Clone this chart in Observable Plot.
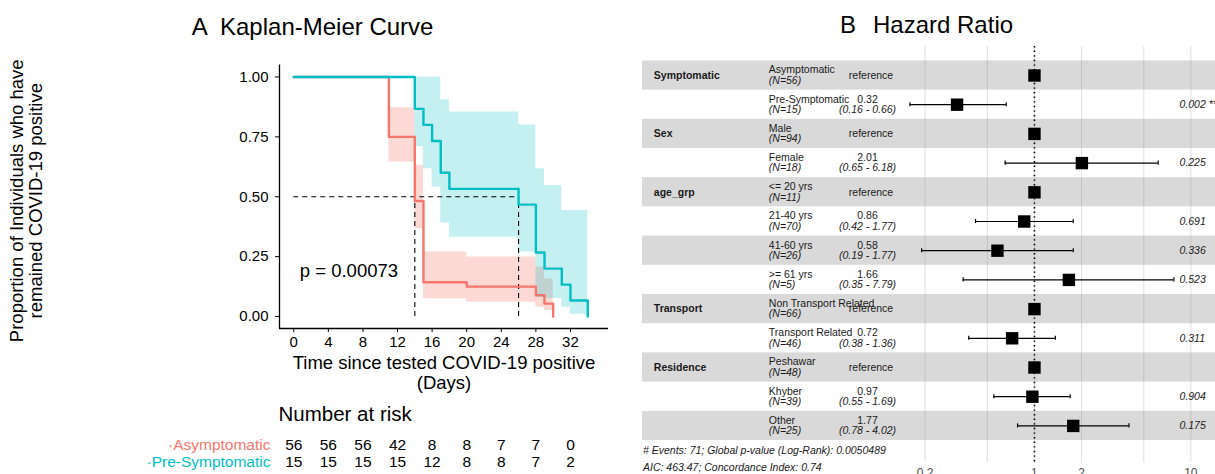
<!DOCTYPE html>
<html><head><meta charset="utf-8">
<script src="https://cdn.jsdelivr.net/npm/d3@7"></script>
<script src="https://cdn.jsdelivr.net/npm/@observablehq/plot@0.6"></script>
<style>
html,body{margin:0;padding:0;background:#fff;}
#root{position:relative;width:1215px;height:474px;overflow:hidden;background:#fff;font-family:"Liberation Sans",Arial,Helvetica,sans-serif;color:#000;}
.abs{position:absolute;line-height:1;white-space:pre;}
#root svg{position:absolute;top:0;}
</style></head><body><div id="root"></div>
<script>
const FONT = '"Liberation Sans", Arial, Helvetica, sans-serif';

// ---------- Panel A: Kaplan-Meier data ----------
const groups = ["Asymptomatic", "Pre-Symptomatic"];
const groupColors = ["#F8766D", "#00BFC4"];
const bandOpacity = [0.28, 0.23];
const asymTime  = [0, 11, 14, 15, 20, 28, 29, 30];
const asymSurv  = [1, 0.75, 0.482, 0.143, 0.125, 0.089, 0.054, 0];
const asymLower = [1, 0.645, 0.366, 0.074, 0.06, 0.039, 0.025, 0];
const asymUpper = [1, 0.872, 0.631, 0.269, 0.248, 0.206, 0.157, 0];
const preTime  = [0, 14, 15, 16, 17, 18, 26, 28, 29, 31, 32, 34];
const preSurv  = [1, 0.867, 0.8, 0.733, 0.6, 0.533, 0.467, 0.267, 0.2, 0.133, 0.067, 0];
const preLower = [1, 0.71, 0.617, 0.54, 0.39, 0.331, 0.269, 0.08, 0.075, 0.04, 0.01, 0];
const preUpper = [1, 1, 1, 1, 0.905, 0.854, 0.8, 0.617, 0.547, 0.443, 0.443, 0];
const medianTimes = [14, 26];
const medianSurv = 0.5;
const pValueLabel = "p = 0.00073";
const pValueAt = {t: 0.7, s: 0.19};
const xTicks = [0, 4, 8, 12, 16, 20, 24, 28, 32];
const yTicks = [0, 0.25, 0.5, 0.75, 1];
const xTitle = "Time since tested COVID-19 positive\n(Days)";
const yTitle = "Proportion of Individuals who have\nremained COVID-19 positive";

// Number at risk
const riskTimes = [0, 4, 8, 12, 16, 20, 24, 28, 32];
const riskAsym = [56, 56, 56, 42, 8, 8, 7, 7, 0];
const riskPre  = [15, 15, 15, 15, 12, 8, 8, 7, 2];

// ---------- Panel B: Hazard ratio data ----------
const fpVariable = ["Symptomatic", "", "Sex", "", "age_grp", "", "", "", "Transport", "", "Residence", "", ""];
const fpLevel = ["Asymptomatic", "Pre-Symptomatic", "Male", "Female", "<= 20 yrs", "21-40 yrs", "41-60 yrs", ">= 61 yrs", "Non Transport Related", "Transport Related", "Peshawar", "Khyber", "Other"];
const fpN = [56, 15, 94, 18, 11, 70, 26, 5, 66, 46, 48, 39, 25];
const fpHR   = [null, 0.32, null, 2.01, null, 0.86, 0.58, 1.66, null, 0.72, null, 0.97, 1.77];
const fpLow  = [null, 0.16, null, 0.65, null, 0.42, 0.19, 0.35, null, 0.38, null, 0.55, 0.78];
const fpHigh = [null, 0.66, null, 6.18, null, 1.77, 1.77, 7.79, null, 1.36, null, 1.69, 4.02];
const fpP = ["", "0.002 **", "", "0.225", "", "0.691", "0.336", "0.523", "", "0.311", "", "0.904", "0.175"];
const fpTicks = [0.2, 0.5, 1, 2, 5, 10];
const fpFooter = ["# Events: 71; Global p-value (Log-Rank): 0.0050489", "AIC: 463.47; Concordance Index: 0.74"];

// ---------- helpers ----------
const root = document.getElementById("root");
function addText(txt, left, baseline, size, extra = {}) {
  const d = document.createElement("div");
  d.className = "abs";
  d.textContent = txt;
  d.style.left = left + "px";
  d.style.top = (baseline - 0.8465 * size) + "px";
  d.style.fontSize = size + "px";
  Object.assign(d.style, extra);
  root.appendChild(d);
}
function place(svg, left) {
  svg.style.left = left + "px";
  root.appendChild(svg);
}

// ---------- KM plot ----------
const kmRows = [
  ...asymTime.map((t, i) => ({group: groups[0], t, s: asymSurv[i], lo: asymLower[i], hi: asymUpper[i]})),
  ...preTime.map((t, i) => ({group: groups[1], t, s: preSurv[i], lo: preLower[i], hi: preUpper[i]}))
];
const xDom = [-1.65, 36.4];
const yDom = [-0.05, 1.05];
const baseStyle = {fontFamily: FONT, fontSize: "15px", color: "#000", background: "transparent", overflow: "visible"};

const km = Plot.plot({
  width: 620, height: 400,
  marginLeft: 279, marginRight: 12, marginTop: 64.5, marginBottom: 72,
  x: {domain: xDom},
  y: {domain: yDom},
  color: {domain: groups, range: groupColors},
  style: baseStyle,
  marks: [
    ...groups.map((g, gi) => Plot.areaY(kmRows.filter(d => d.group === g), {x: "t", y1: "lo", y2: "hi", fill: groupColors[gi], fillOpacity: bandOpacity[gi], curve: "step-after"})),
    Plot.ruleY([medianSurv], {x1: 0, x2: d3.max(medianTimes), stroke: "#000", strokeWidth: 1.1, strokeDasharray: "5,4"}),
    Plot.ruleX(medianTimes, {y1: 0, y2: medianSurv, stroke: "#000", strokeWidth: 1.1, strokeDasharray: "5,4"}),
    Plot.line(kmRows, {x: "t", y: "s", z: "group", stroke: "group", strokeWidth: 2.4, curve: "step-after"}),
    Plot.text([pValueAt], {x: "t", y: "s", text: () => pValueLabel, textAnchor: "start", fontSize: 18.5}),
    Plot.ruleX([xDom[0]], {stroke: "#000", strokeWidth: 1.3}),
    Plot.ruleY([yDom[0]], {stroke: "#000", strokeWidth: 1.3}),
    Plot.axisX({ticks: xTicks, tickSize: 4, tickPadding: 4, label: null, fontSize: 15}),
    Plot.axisY({ticks: yTicks, tickFormat: d3.format(".2f"), tickSize: 4, tickPadding: 7, label: null, fontSize: 15}),
    Plot.text([xTitle], {text: d => d, frameAnchor: "bottom", dy: 26, lineAnchor: "top", textAnchor: "middle", fontSize: 18.5, lineHeight: 1.08}),
    Plot.text([yTitle], {text: d => d, frameAnchor: "left", dx: -253, dy: 4, rotate: -90, textAnchor: "middle", lineAnchor: "middle", fontSize: 18.5, lineHeight: 1.0})
  ]
});
place(km, 0);

// ---------- Risk table ----------
const riskRows = groups.flatMap((g, gi) => riskTimes.map((t, i) => ({group: g, t, n: (gi ? riskPre : riskAsym)[i]})));
const risk = Plot.plot({
  width: 620, height: 474,
  marginLeft: 279, marginRight: 12, marginTop: 445, marginBottom: 11.7,
  x: {domain: xDom, axis: null},
  y: {type: "point", domain: groups, padding: 0, axis: null},
  color: {domain: groups, range: groupColors},
  style: baseStyle,
  marks: [
    Plot.text(riskRows, {x: "t", y: "group", text: "n", fontSize: 15.5}),
    Plot.text(groups, {y: d => d, text: d => "\u00b7" + d, fill: d => d, frameAnchor: "left", dx: -9, textAnchor: "end", fontSize: 15.5})
  ]
});
place(risk, 0);

// ---------- Forest plot ----------
const fpRows = fpLevel.map((lvl, i) => ({
  i, variable: fpVariable[i], level: lvl, n: "(N=" + fpN[i] + ")",
  ref: fpHR[i] == null,
  hr: fpHR[i] == null ? 1 : fpHR[i],
  lo: fpLow[i], hi: fpHigh[i], p: fpP[i]
}));
const fpEst = fpRows.filter(d => !d.ref);
const fpRef = fpRows.filter(d => d.ref);
const fmt2 = d3.format(".2f");
const ink = "#1a1a1a";
const forest = Plot.plot({
  width: 575, height: 500,
  marginLeft: 2, marginRight: 0, marginTop: 46, marginBottom: 38,
  x: {type: "log", domain: [0.00312, 14.37]},
  y: {domain: [-0.993, 13.253], reverse: true, axis: null},
  style: {...baseStyle, fontSize: "10.5px"},
  marks: [
    Plot.rect(fpRows.filter(d => d.i % 2 === 0), {y1: d => d.i - 0.5, y2: d => d.i + 0.5, fill: "#d9d9d9"}),
    Plot.ruleX(fpTicks, {stroke: "#999", strokeOpacity: 0.32, strokeWidth: 1}),
    Plot.ruleX([1], {stroke: "#000", strokeWidth: 1.6, strokeDasharray: "1.4,3.2"}),
    Plot.ruleY(fpEst, {y: "i", x1: "lo", x2: "hi", stroke: "#000", strokeWidth: 1.2}),
    Plot.ruleX(fpEst, {x: "lo", y1: d => d.i - 0.07, y2: d => d.i + 0.07, stroke: "#000", strokeWidth: 1.2}),
    Plot.ruleX(fpEst, {x: "hi", y1: d => d.i - 0.07, y2: d => d.i + 0.07, stroke: "#000", strokeWidth: 1.2}),
    Plot.dot(fpRows, {x: "hr", y: "i", symbol: "square", r: 7, fill: "#000"}),
    Plot.text(fpRows, {y: "i", text: "variable", frameAnchor: "left", dx: 11.3, textAnchor: "start", fontWeight: "bold", fill: ink}),
    Plot.text(fpRows, {y: "i", text: "level", frameAnchor: "left", dx: 126.3, dy: -5.5, textAnchor: "start", fill: ink}),
    Plot.text(fpRows, {y: "i", text: "n", frameAnchor: "left", dx: 126.3, dy: 5, textAnchor: "start", fontStyle: "italic", fill: ink}),
    Plot.text(fpRef, {y: "i", text: () => "reference", frameAnchor: "left", dx: 228.5, textAnchor: "middle", fill: ink}),
    Plot.text(fpEst, {y: "i", text: d => fmt2(d.hr), frameAnchor: "left", dx: 225, dy: -5.5, textAnchor: "middle", fill: ink}),
    Plot.text(fpEst, {y: "i", text: d => "(" + fmt2(d.lo) + " - " + fmt2(d.hi) + ")", frameAnchor: "left", dx: 225, dy: 5, textAnchor: "middle", fontStyle: "italic", fill: ink}),
    Plot.text(fpEst, {y: "i", text: "p", frameAnchor: "right", dx: -36, textAnchor: "start", fontStyle: "italic", fill: ink}),
    Plot.axisX({ticks: fpTicks, tickFormat: d => String(d), tickSize: 0, tickPadding: 6, label: null, fontSize: 12, fill: "#4d4d4d"})
  ]
});
place(forest, 640);

// ---------- titles / captions ----------
addText("A", 191.7, 35, 24);
addText("Kaplan-Meier Curve", 220, 35, 24);
addText("B", 840, 33.5, 24);
addText("Hazard Ratio", 873, 33.5, 24);
addText("Number at risk", 278.5, 421, 20.5);
addText(fpFooter[0], 643, 453.5, 10.5, {fontStyle: "italic", color: ink});
addText(fpFooter[1], 643, 471, 10.5, {fontStyle: "italic", color: ink});
</script></body></html>
